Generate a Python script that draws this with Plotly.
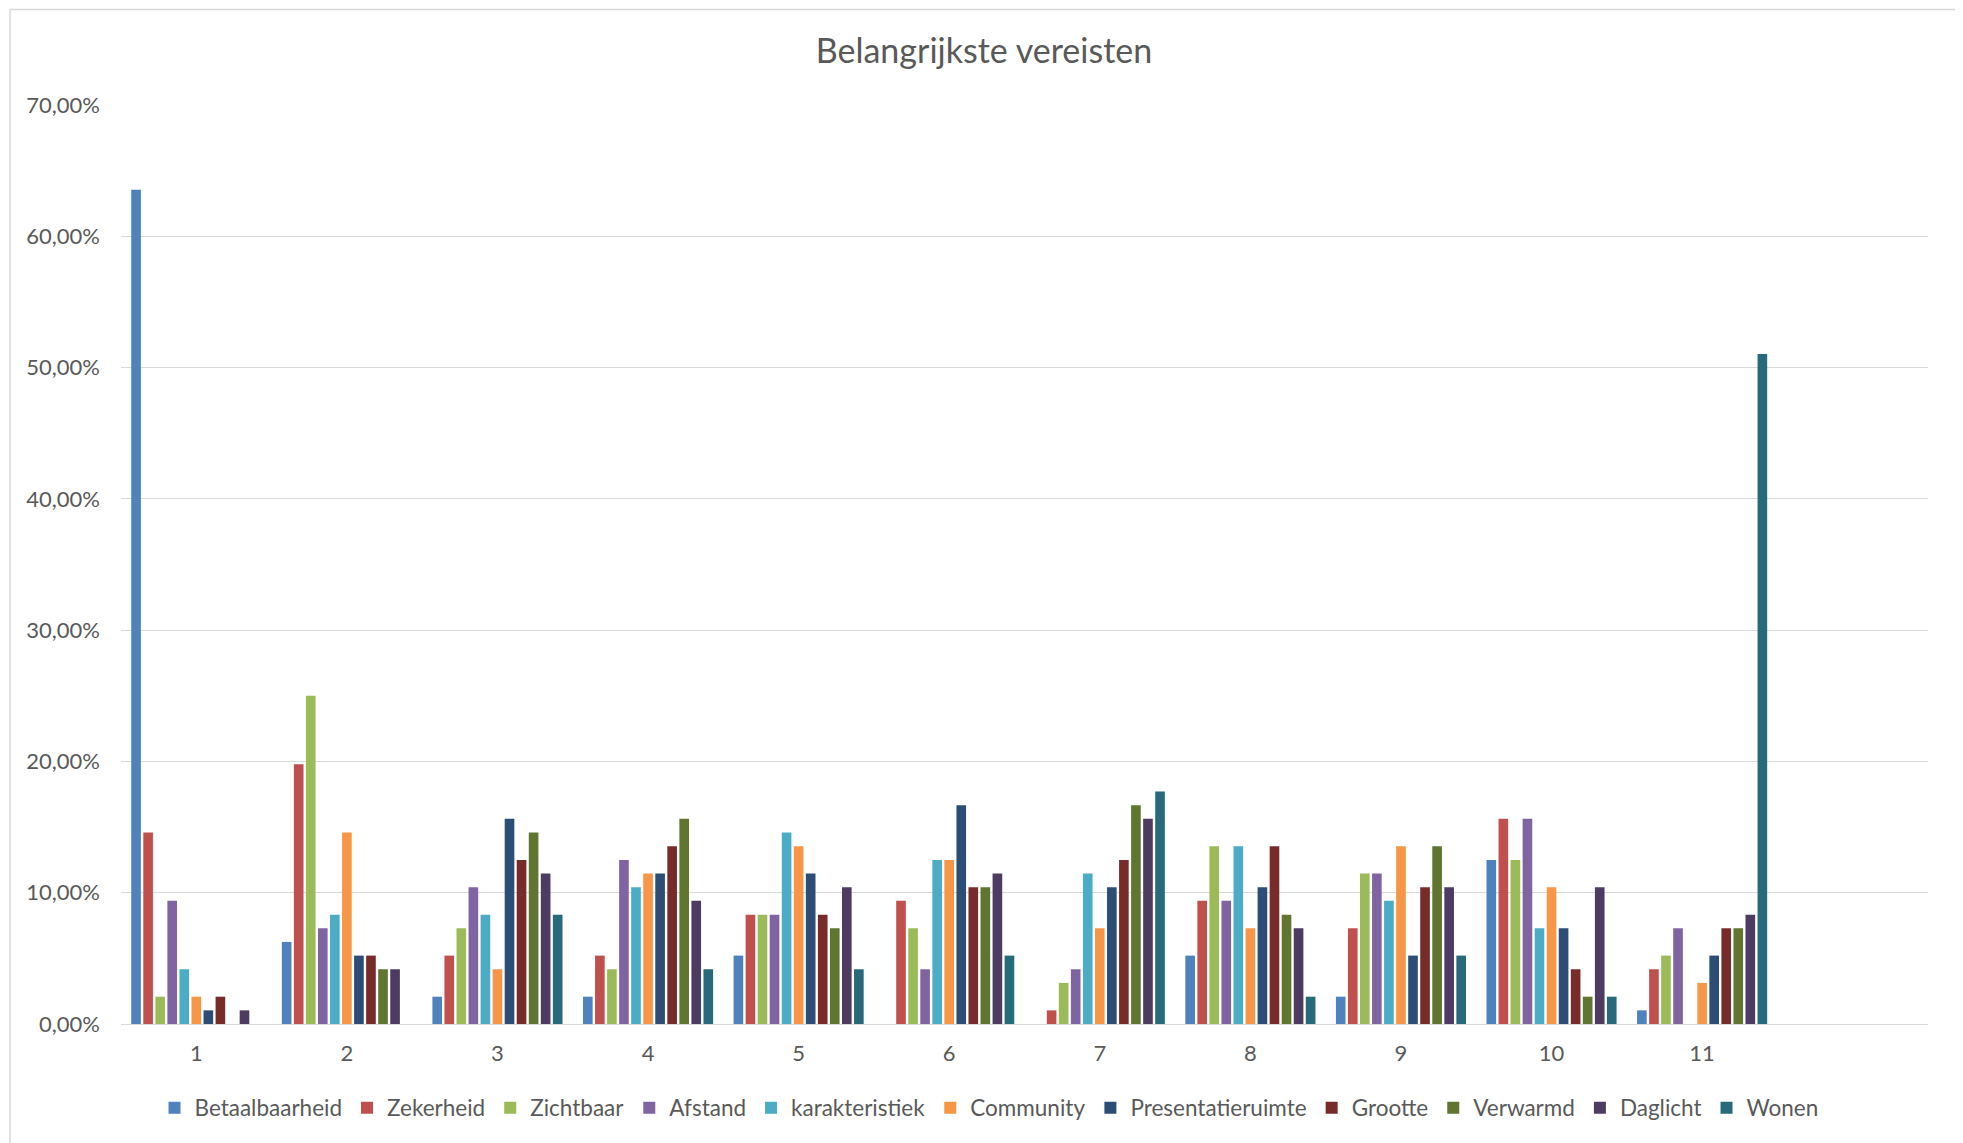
import plotly.graph_objects as go

categories = [1, 2, 3, 4, 5, 6, 7, 8, 9, 10, 11]
tick_labels = ["1", "2", "3", "4", "5", "6", "7", "8", "9", "10", "11"]

betaalbaarheid = [0.6354, 0.0625, 0.0208, 0.0208, 0.0521, 0.0, 0.0, 0.0521, 0.0208, 0.1250, 0.0104]
zekerheid = [0.1458, 0.1979, 0.0521, 0.0521, 0.0833, 0.0938, 0.0104, 0.0938, 0.0729, 0.1563, 0.0417]
zichtbaar = [0.0208, 0.2500, 0.0729, 0.0417, 0.0833, 0.0729, 0.0313, 0.1354, 0.1146, 0.1250, 0.0521]
afstand = [0.0938, 0.0729, 0.1042, 0.1250, 0.0833, 0.0417, 0.0417, 0.0938, 0.1146, 0.1563, 0.0729]
karakteristiek = [0.0417, 0.0833, 0.0833, 0.1042, 0.1458, 0.1250, 0.1146, 0.1354, 0.0938, 0.0729, 0.0]
community = [0.0208, 0.1458, 0.0417, 0.1146, 0.1354, 0.1250, 0.0729, 0.0729, 0.1354, 0.1042, 0.0313]
presentatieruimte = [0.0104, 0.0521, 0.1563, 0.1146, 0.1146, 0.1667, 0.1042, 0.1042, 0.0521, 0.0729, 0.0521]
grootte = [0.0208, 0.0521, 0.1250, 0.1354, 0.0833, 0.1042, 0.1250, 0.1354, 0.1042, 0.0417, 0.0729]
verwarmd = [0.0, 0.0417, 0.1458, 0.1563, 0.0729, 0.1042, 0.1667, 0.0833, 0.1354, 0.0208, 0.0729]
daglicht = [0.0104, 0.0417, 0.1146, 0.0938, 0.1042, 0.1146, 0.1563, 0.0729, 0.1042, 0.1042, 0.0833]
wonen = [0.0, 0.0, 0.0833, 0.0417, 0.0417, 0.0521, 0.1771, 0.0208, 0.0521, 0.0208, 0.5104]

series = [
    ("Betaalbaarheid", betaalbaarheid, "#4F81BD"),
    ("Zekerheid", zekerheid, "#C0504D"),
    ("Zichtbaar", zichtbaar, "#9BBB59"),
    ("Afstand", afstand, "#8064A2"),
    ("karakteristiek", karakteristiek, "#4BACC6"),
    ("Community", community, "#F79646"),
    ("Presentatieruimte", presentatieruimte, "#2C4D75"),
    ("Grootte", grootte, "#772C2A"),
    ("Verwarmd", verwarmd, "#5F7530"),
    ("Daglicht", daglicht, "#4D3B62"),
    ("Wonen", wonen, "#276A7C"),
]

OFF = 8  # page body margin
W, H = 1963 - OFF, 1143 - OFF
L, R, T, B = 121 - OFF, 1928 - OFF, 105 - OFF, 1024 - OFF
pw, ph = R - L, B - T


def px(x):
    return (x - OFF - L) / pw


def py(y):
    return (B - (y - OFF)) / ph


FONT = "Lato"
GREY = "#595959"

fig = go.Figure()
for name, vals, color in series:
    fig.add_trace(go.Bar(x=categories, y=vals, name=name, marker=dict(color=color, line=dict(width=0))))

fig.update_layout(
    width=W, height=H,
    margin=dict(l=L, r=W - R, t=T, b=H - B, autoexpand=False),
    paper_bgcolor="white", plot_bgcolor="white",
    separators=",.",
    barmode="group", bargap=0.12, bargroupgap=0.2,
    font=dict(family=FONT, color=GREY, size=22),
    title=dict(text="Belangrijkste vereisten", x=px(984), xref="paper", xanchor="center",
               y=1 - (51 - OFF) / H, yanchor="middle", font=dict(size=34, color=GREY, family=FONT)),
    xaxis=dict(range=[0.5, 12.5], tickmode="array", tickvals=categories, ticktext=tick_labels,
               showgrid=False, zeroline=False, showline=False, ticks="",
               tickfont=dict(size=22, color=GREY, family=FONT), ticklabelstandoff=14),
    yaxis=dict(range=[0, 0.70], dtick=0.10, tickformat=".2%", showgrid=True,
               gridcolor="#D9D9D9", gridwidth=1.4, zeroline=True, zerolinecolor="#D9D9D9",
               zerolinewidth=1.4, showline=False, ticks="",
               tickfont=dict(size=22, color=GREY, family=FONT), ticklabelstandoff=20),
    legend=dict(orientation="h", x=px(989), xanchor="center", y=py(1108), yanchor="middle",
                font=dict(size=22.5, color=GREY, family=FONT), bgcolor="rgba(0,0,0,0)",
                traceorder="normal", itemwidth=30),
    showlegend=True,
    shapes=[dict(type="rect", xref="paper", yref="paper",
                 x0=px(10), x1=px(1957), y0=py(9.5), y1=py(1160),
                 line=dict(color="#D9D9D9", width=1.5), fillcolor="rgba(0,0,0,0)", layer="below")],
)

fig.write_html("out.html")
